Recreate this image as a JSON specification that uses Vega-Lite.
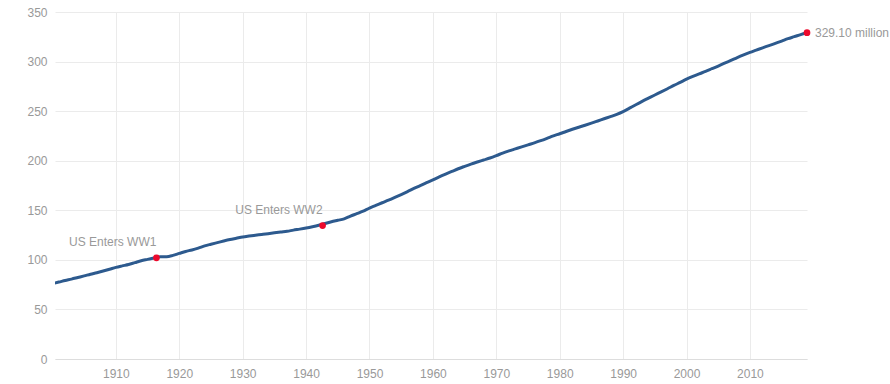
{
  "$schema": "https://vega.github.io/schema/vega-lite/v6.json",
  "width": 752,
  "height": 347,
  "autosize": {"type": "none"},
  "padding": {"left": 55, "top": 12, "right": 83, "bottom": 25},
  "config": {
    "view": {"stroke": null},
    "font": "Liberation Sans",
    "axis": {"labelColor": "#999999", "labelFontSize": 12, "gridColor": "#ebebeb", "ticks": false, "title": null, "labelFont": "Liberation Sans"}
  },
  "datasets": {
    "pop": [
      {"year": 1900, "pop": 76.1}, {"year": 1901, "pop": 77.6}, {"year": 1902, "pop": 79.2}, {"year": 1903, "pop": 80.6}, {"year": 1904, "pop": 82.2},
      {"year": 1905, "pop": 83.8}, {"year": 1906, "pop": 85.5}, {"year": 1907, "pop": 87.0}, {"year": 1908, "pop": 88.7}, {"year": 1909, "pop": 90.5},
      {"year": 1910, "pop": 92.4}, {"year": 1911, "pop": 93.9}, {"year": 1912, "pop": 95.3}, {"year": 1913, "pop": 97.2}, {"year": 1914, "pop": 99.1},
      {"year": 1915, "pop": 100.5}, {"year": 1916, "pop": 101.9}, {"year": 1917, "pop": 103.2}, {"year": 1918, "pop": 103.2}, {"year": 1919, "pop": 104.5},
      {"year": 1920, "pop": 106.5}, {"year": 1921, "pop": 108.5}, {"year": 1922, "pop": 110.0}, {"year": 1923, "pop": 111.9}, {"year": 1924, "pop": 114.1},
      {"year": 1925, "pop": 115.8}, {"year": 1926, "pop": 117.4}, {"year": 1927, "pop": 119.0}, {"year": 1928, "pop": 120.5}, {"year": 1929, "pop": 121.8},
      {"year": 1930, "pop": 123.1}, {"year": 1931, "pop": 124.0}, {"year": 1932, "pop": 124.8}, {"year": 1933, "pop": 125.6}, {"year": 1934, "pop": 126.4},
      {"year": 1935, "pop": 127.3}, {"year": 1936, "pop": 128.1}, {"year": 1937, "pop": 128.8}, {"year": 1938, "pop": 130.0}, {"year": 1939, "pop": 131.0},
      {"year": 1940, "pop": 132.1}, {"year": 1941, "pop": 133.4}, {"year": 1942, "pop": 134.9}, {"year": 1943, "pop": 136.7}, {"year": 1944, "pop": 138.4},
      {"year": 1945, "pop": 139.9}, {"year": 1946, "pop": 141.4}, {"year": 1947, "pop": 144.1}, {"year": 1948, "pop": 146.6}, {"year": 1949, "pop": 149.2},
      {"year": 1950, "pop": 152.3}, {"year": 1951, "pop": 154.9}, {"year": 1952, "pop": 157.6}, {"year": 1953, "pop": 160.2}, {"year": 1954, "pop": 163.0},
      {"year": 1955, "pop": 165.9}, {"year": 1956, "pop": 168.9}, {"year": 1957, "pop": 172.0}, {"year": 1958, "pop": 174.9}, {"year": 1959, "pop": 177.8},
      {"year": 1960, "pop": 180.7}, {"year": 1961, "pop": 183.7}, {"year": 1962, "pop": 186.5}, {"year": 1963, "pop": 189.2}, {"year": 1964, "pop": 191.9},
      {"year": 1965, "pop": 194.3}, {"year": 1966, "pop": 196.6}, {"year": 1967, "pop": 198.7}, {"year": 1968, "pop": 200.7}, {"year": 1969, "pop": 202.7},
      {"year": 1970, "pop": 205.1}, {"year": 1971, "pop": 207.7}, {"year": 1972, "pop": 209.9}, {"year": 1973, "pop": 211.9}, {"year": 1974, "pop": 213.9},
      {"year": 1975, "pop": 216.0}, {"year": 1976, "pop": 218.0}, {"year": 1977, "pop": 220.2}, {"year": 1978, "pop": 222.6}, {"year": 1979, "pop": 225.1},
      {"year": 1980, "pop": 227.2}, {"year": 1981, "pop": 229.5}, {"year": 1982, "pop": 231.7}, {"year": 1983, "pop": 233.8}, {"year": 1984, "pop": 235.8},
      {"year": 1985, "pop": 237.9}, {"year": 1986, "pop": 240.1}, {"year": 1987, "pop": 242.3}, {"year": 1988, "pop": 244.5}, {"year": 1989, "pop": 246.8},
      {"year": 1990, "pop": 249.6}, {"year": 1991, "pop": 253.0}, {"year": 1992, "pop": 256.5}, {"year": 1993, "pop": 259.9}, {"year": 1994, "pop": 263.1},
      {"year": 1995, "pop": 266.3}, {"year": 1996, "pop": 269.4}, {"year": 1997, "pop": 272.6}, {"year": 1998, "pop": 275.9}, {"year": 1999, "pop": 279.0},
      {"year": 2000, "pop": 282.2}, {"year": 2001, "pop": 285.0}, {"year": 2002, "pop": 287.6}, {"year": 2003, "pop": 290.1}, {"year": 2004, "pop": 292.8},
      {"year": 2005, "pop": 295.5}, {"year": 2006, "pop": 298.4}, {"year": 2007, "pop": 301.2}, {"year": 2008, "pop": 304.1}, {"year": 2009, "pop": 306.8},
      {"year": 2010, "pop": 309.3}, {"year": 2011, "pop": 311.6}, {"year": 2012, "pop": 313.9}, {"year": 2013, "pop": 316.1}, {"year": 2014, "pop": 318.4},
      {"year": 2015, "pop": 320.7}, {"year": 2016, "pop": 323.1}, {"year": 2017, "pop": 325.1}, {"year": 2018, "pop": 327.2}, {"year": 2019, "pop": 329.1}
    ],
    "events": [
      {"year": 1916.4, "pop": 102.0, "label": "US Enters WW1", "side": "left"},
      {"year": 1942.6, "pop": 134.6, "label": "US Enters WW2", "side": "left"},
      {"year": 2019, "pop": 329.1, "label": "329.10 million", "side": "right"}
    ]
  },
  "layer": [
    {
      "data": {"name": "pop"},
      "mark": {"type": "line", "color": "#2d5a8e", "strokeWidth": 3, "clip": true, "interpolate": "monotone"},
      "encoding": {
        "x": {"field": "year", "type": "quantitative", "scale": {"domain": [1900.4, 2019], "nice": false, "zero": false},
              "axis": {"values": [1910, 1920, 1930, 1940, 1950, 1960, 1970, 1980, 1990, 2000, 2010], "format": "d", "labelPadding": 9, "domainColor": "#dddddd", "grid": true}},
        "y": {"field": "pop", "type": "quantitative", "scale": {"domain": [0, 350], "nice": false},
              "axis": {"values": [0, 50, 100, 150, 200, 250, 300, 350], "domain": false, "labelPadding": 8}}
      }
    },
    {
      "data": {"name": "events"},
      "mark": {"type": "point", "filled": true, "color": "#ec0a2c", "size": 45, "opacity": 1},
      "encoding": {
        "x": {"field": "year", "type": "quantitative"},
        "y": {"field": "pop", "type": "quantitative"}
      }
    },
    {
      "data": {"name": "events"},
      "transform": [{"filter": "datum.side == 'left'"}],
      "mark": {"type": "text", "align": "right", "baseline": "alphabetic", "dy": -12, "dx": 0, "color": "#999999", "fontSize": 12},
      "encoding": {
        "x": {"field": "year", "type": "quantitative"},
        "y": {"field": "pop", "type": "quantitative"},
        "text": {"field": "label"}
      }
    },
    {
      "data": {"name": "events"},
      "transform": [{"filter": "datum.side == 'right'"}],
      "mark": {"type": "text", "align": "left", "baseline": "middle", "dx": 8, "color": "#999999", "fontSize": 12},
      "encoding": {
        "x": {"field": "year", "type": "quantitative"},
        "y": {"field": "pop", "type": "quantitative"},
        "text": {"field": "label"}
      }
    }
  ]
}
